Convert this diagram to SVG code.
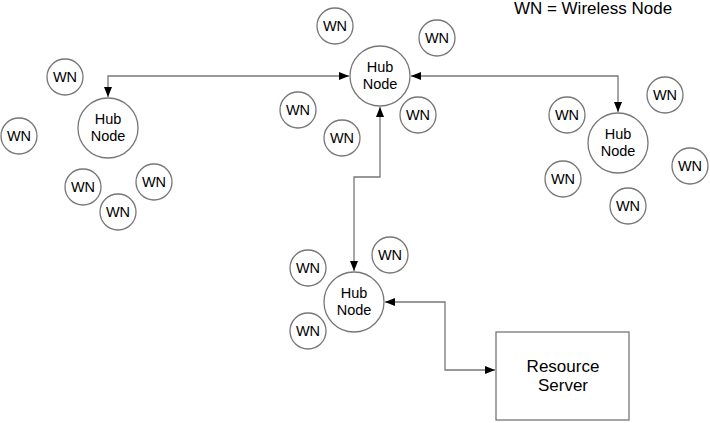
<svg xmlns="http://www.w3.org/2000/svg" width="710" height="423" viewBox="0 0 710 423">
<defs>
<marker id="arr" markerWidth="11" markerHeight="9" refX="10" refY="4" orient="auto-start-reverse" markerUnits="userSpaceOnUse">
<path d="M0,0 L10,4 L0,8 z" fill="#000"/>
</marker>
<style>
.c{fill:#fff;stroke:#777;stroke-width:1.3}
.t{font-family:"Liberation Sans",Arial,sans-serif;font-size:14.5px;fill:#000;text-anchor:middle}
.b{font-size:17px}
.l{fill:none;stroke:#777;stroke-width:1.3;marker-start:url(#arr);marker-end:url(#arr)}
</style>
</defs>
<rect width="710" height="423" fill="#fff"/>
<text x="593" y="14" class="t b">WN = Wireless Node</text>
<g id="connectors">
<path class="l" d="M108,97 V76 H349"/>
<path class="l" d="M411,76 H618 V112"/>
<path class="l" d="M380,107 V177 H354 V271"/>
<path class="l" d="M385,302 H445 V370 H495"/>
</g>
<g id="hub-left"><circle class="c" cx="108" cy="128" r="30"/><text class="t" x="108" y="124">Hub</text><text class="t" x="108" y="141">Node</text></g>
<g id="hub-top"><circle class="c" cx="380" cy="76" r="30"/><text class="t" x="380" y="72">Hub</text><text class="t" x="380" y="89">Node</text></g>
<g id="hub-right"><circle class="c" cx="618" cy="143" r="30"/><text class="t" x="618" y="139">Hub</text><text class="t" x="618" y="156">Node</text></g>
<g id="hub-bottom"><circle class="c" cx="354" cy="302" r="30"/><text class="t" x="354" y="298">Hub</text><text class="t" x="354" y="315">Node</text></g>
<g id="server"><rect x="496" y="332" width="133" height="88" fill="#fff" stroke="#777" stroke-width="1.3"/><text class="t b" x="563" y="372">Resource</text><text class="t b" x="563" y="391">Server</text></g>
<g id="wn1"><circle class="c" cx="65" cy="77" r="18"/><text class="t" x="65" y="82">WN</text></g>
<g id="wn2"><circle class="c" cx="19" cy="136" r="18"/><text class="t" x="19" y="141">WN</text></g>
<g id="wn3"><circle class="c" cx="83" cy="187" r="18"/><text class="t" x="83" y="192">WN</text></g>
<g id="wn4"><circle class="c" cx="154" cy="182" r="18"/><text class="t" x="154" y="187">WN</text></g>
<g id="wn5"><circle class="c" cx="118" cy="212" r="18"/><text class="t" x="118" y="217">WN</text></g>
<g id="wn6"><circle class="c" cx="335" cy="26" r="18"/><text class="t" x="335" y="31">WN</text></g>
<g id="wn7"><circle class="c" cx="437" cy="38" r="18"/><text class="t" x="437" y="43">WN</text></g>
<g id="wn8"><circle class="c" cx="298" cy="110" r="18"/><text class="t" x="298" y="115">WN</text></g>
<g id="wn9"><circle class="c" cx="342" cy="138" r="18"/><text class="t" x="342" y="143">WN</text></g>
<g id="wn10"><circle class="c" cx="418" cy="115" r="18"/><text class="t" x="418" y="120">WN</text></g>
<g id="wn11"><circle class="c" cx="665" cy="95" r="18"/><text class="t" x="665" y="100">WN</text></g>
<g id="wn12"><circle class="c" cx="567" cy="115" r="18"/><text class="t" x="567" y="120">WN</text></g>
<g id="wn13"><circle class="c" cx="690" cy="166" r="18"/><text class="t" x="690" y="171">WN</text></g>
<g id="wn14"><circle class="c" cx="563" cy="179" r="18"/><text class="t" x="563" y="184">WN</text></g>
<g id="wn15"><circle class="c" cx="628" cy="206" r="18"/><text class="t" x="628" y="211">WN</text></g>
<g id="wn16"><circle class="c" cx="390" cy="255" r="18"/><text class="t" x="390" y="260">WN</text></g>
<g id="wn17"><circle class="c" cx="308" cy="268" r="18"/><text class="t" x="308" y="273">WN</text></g>
<g id="wn18"><circle class="c" cx="308" cy="331" r="18"/><text class="t" x="308" y="336">WN</text></g>
</svg>
